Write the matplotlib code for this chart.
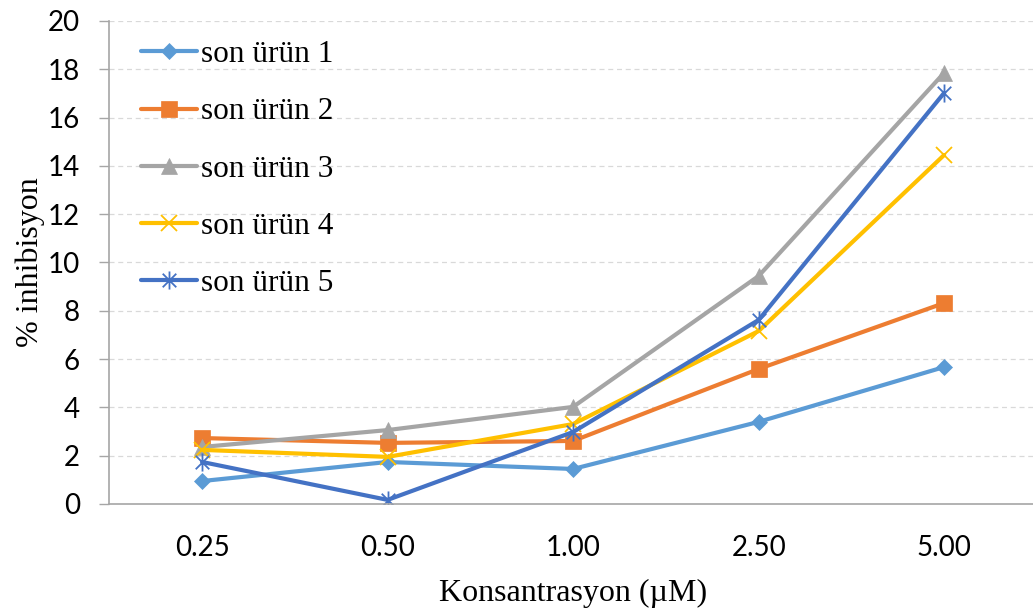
import matplotlib
matplotlib.use("Agg")
import matplotlib.pyplot as plt
from matplotlib.path import Path
import numpy as np

categories = ["0.25", "0.50", "1.00", "2.50", "5.00"]
series_names = ["son ürün 1", "son ürün 2", "son ürün 3", "son ürün 4", "son ürün 5"]
s1 = [0.95, 1.74, 1.45, 3.40, 5.67]
s2 = [2.73, 2.53, 2.61, 5.59, 8.32]
s3 = [2.36, 3.06, 4.02, 9.44, 17.85]
s4 = [2.24, 1.95, 3.31, 7.16, 14.45]
s5 = [1.74, 0.17, 2.98, 7.62, 17.02]
y_ticks = [0, 2, 4, 6, 8, 10, 12, 14, 16, 18, 20]

star = Path([(0, -1), (0, 1), (-0.75, -0.75), (0.75, 0.75), (-0.75, 0.75), (0.75, -0.75)],
            [Path.MOVETO, Path.LINETO, Path.MOVETO, Path.LINETO, Path.MOVETO, Path.LINETO])

colors = ["#5B9BD5", "#ED7D31", "#A5A5A5", "#FFC000", "#4472C4"]
markers = ["D", "s", "^", "x", star]
msizes = [8.5, 11.5, 12, 11, 13]
medges = [0.5, 0.5, 0.5, 1.3, 1.3]

fig = plt.figure(figsize=(10.33, 6.15), dpi=100)
ax = fig.add_axes([0.1058, 0.1805, 0.898, 0.7855])

x = np.arange(len(categories))
for vals, name, c, m, ms, me in zip([s1, s2, s3, s4, s5], series_names, colors, markers, msizes, medges):
    ax.plot(x, vals, color=c, lw=3, marker=m, markersize=ms, label=name,
            markeredgewidth=me, markeredgecolor=c, markerfacecolor=c,
            solid_capstyle="round", solid_joinstyle="round")

ax.set_xlim(-0.5, len(categories) - 0.5)
ax.set_ylim(0, 20)
ax.set_yticks(y_ticks)
ax.set_xticks(x)
ax.set_xticklabels(categories)
ax.yaxis.grid(True, linestyle=(0, (4, 3)), color="#D9D9D9", lw=0.9)
ax.set_axisbelow(True)
for side in ("top", "right"):
    ax.spines[side].set_visible(False)
for side in ("left", "bottom"):
    ax.spines[side].set_color("#A6A6A6")
    ax.spines[side].set_linewidth(1.2)
ax.tick_params(axis="y", length=7, width=1.0, color="#A6A6A6", labelsize=20, pad=14)
ax.tick_params(axis="x", length=0, labelsize=20, pad=22)
for lab in ax.get_xticklabels() + ax.get_yticklabels():
    lab.set_fontfamily("Lato")

ax.set_xlabel("Konsantrasyon (µM)", fontfamily="Liberation Serif", fontsize=23, labelpad=13)
ax.set_ylabel("% inhibisyon", fontfamily="Liberation Serif", fontsize=23, labelpad=2)

leg = ax.legend(loc="upper left", frameon=False, prop={"family": "Liberation Serif", "size": 22.5},
                labelspacing=0.9, handlelength=1.8, handletextpad=0.1,
                bbox_to_anchor=(0.004, 1.018))

fig.savefig("out.png", dpi=100)
